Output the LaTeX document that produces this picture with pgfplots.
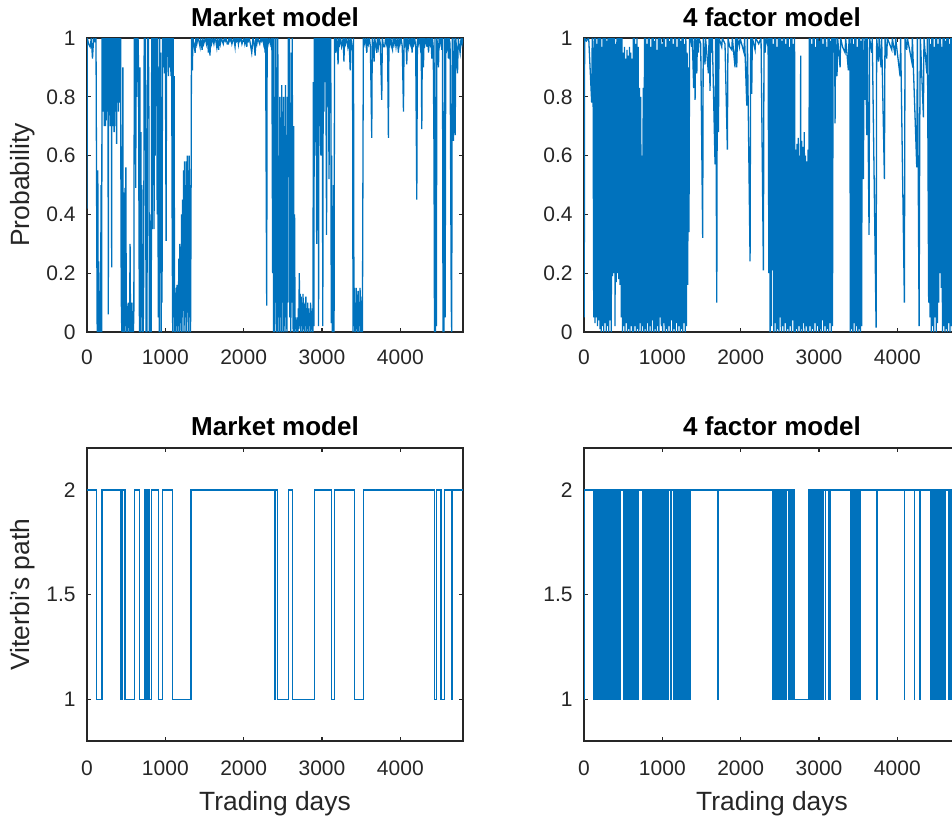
\documentclass[border=0pt]{standalone}
\usepackage{fontspec}
\setmainfont{Liberation Sans}
\usepackage{pgfplots}
\pgfplotsset{compat=1.18}
\definecolor{mblue}{HTML}{0072BD}
\definecolor{axgray}{HTML}{262626}
\pgfplotsset{
  mstyle/.style={
    scale only axis, width=188pt,
    xmin=0, xmax=4800,
    xtick={0,1000,2000,3000,4000},
    scaled ticks=false,
    /pgf/number format/1000 sep={},
    /pgf/number format/assume math mode=true,
    tick align=inside,
    major tick length=1.9pt,
    axis line style={axgray, line width=0.6pt},
    tick style={axgray, line width=0.6pt},
    ticklabel style={font=\fontsize{10.5}{12}\selectfont, text=axgray},
    yticklabel style={anchor=east, inner sep=0pt, xshift=-5.5pt},
    every axis title shift=0pt,
    title style={font=\fontsize{13}{15}\selectfont\bfseries, anchor=base, at={(0.5,1)}},
    every axis y label/.style={at={(axis description cs:-0.1715,0.5)}, rotate=90, anchor=center, font=\fontsize{13.2}{15}\selectfont, text=axgray},
    every axis x label/.style={at={(axis description cs:0.5,0)}, anchor=base, yshift=-34.8pt, font=\fontsize{13.2}{15}\selectfont, text=axgray},
  },
  topstyle/.style={mstyle, height=147pt, ymin=0, ymax=1, ytick={0,0.2,0.4,0.6,0.8,1},
    xticklabel style={anchor=north, inner sep=0pt, yshift=-8.5pt},
    title style={yshift=6pt}},
  botstyle/.style={mstyle, height=146.5pt, ymin=0.8, ymax=2.2, ytick={1,1.5,2},
    xticklabel style={anchor=north, inner sep=0pt, yshift=-9.8pt},
    title style={yshift=6.5pt}},
}
\begin{document}
\begin{tikzpicture}
% ---------------- Top left ----------------
\begin{axis}[topstyle, at={(43.5pt,-166pt)}, anchor=south west,
  title={Market model}, ylabel={Probability}]
\addplot[mblue, line width=0.65pt] coordinates {
(0,0.42)(4,1)(20,0.98)(40,0.97)(55,1)(70,0.93)(85,1)(100,0.99)(115,1)(125,0.3)(130,0)(138,0.55)(144,0)(150,0.24)(158,0)(165,0.05)(172,0)(180,0.5)(187,0)
(192,1)(196,0.85)(200,1)(204,0.75)(208,1)(212,0.8)(216,0.95)(220,0.7)(224,1)(228,0.8)(232,1)(236,0.7)(240,0.95)(244,0.72)(248,1)(252,0.8)(256,1)(260,0.75)(264,1)(268,0.85)(272,0.06)(276,1)(280,0.75)(284,1)(288,0.8)(292,1)(296,0.7)(300,0.95)(304,0.72)(308,1)(312,0.8)(315,0.22)(318,1)(322,0.75)(326,0.95)(330,0.7)(334,1)(338,0.72)(342,1)(346,0.68)(350,1)(354,0.8)(358,1)(362,0.75)(366,0.95)(370,0.7)(374,1)(378,0.64)(382,1)(386,0.8)(390,0.95)(394,0.78)(398,1)(402,0.75)(406,1)(410,0.82)(414,1)(418,0.78)(422,1)(426,0.8)(430,1)
(434,0.3)(440,0.05)(446,0)(452,0.5)(458,0.9)(464,0)(470,0.3)(478,0)(484,0.49)(490,0.02)(496,0.56)(502,0)(508,0.1)(514,0)(520,0.08)(526,0.02)(532,0.1)(538,0)(544,0.05)(550,0.3)(556,0)(562,0.08)(568,0)(574,0.1)(580,0)(586,0.04)(592,0)(598,0.06)(604,1)(610,0.78)(616,1)(622,0.49)(628,1)(634,0.8)(640,1)(646,0.85)(652,1)(658,0.9)(664,0.3)(670,0)(676,0.9)(682,0)(688,0.68)(694,0.05)(700,0.5)(706,0)(712,0.3)(718,0)(724,0.2)(730,1)(736,0.88)(742,1)(748,0.7)(754,0)(760,0.2)(766,0)(772,1)(778,0.88)(784,1)(790,0.75)(796,0)(802,0.4)(808,0)(814,0.2)(820,0)(826,1)(832,0.35)(838,1)(844,0.5)(850,1)(856,0.35)(862,1)(870,0.6)(876,1)(884,0.85)(890,1)(896,0.4)(902,1)(910,0.05)(916,0.9)(922,0)(928,1)(934,0.2)(940,0.95)(946,0)(952,0.8)(958,0.1)(964,1)(972,0.9)(980,1)(990,0.88)(1000,1)(1010,0.31)(1016,1)(1024,0.95)(1032,1)(1040,0.87)(1048,1)(1056,0.9)(1064,1)(1072,0.87)(1080,1)(1088,0.3)(1094,0)(1100,1)(1106,0.05)(1112,0.87)(1118,0)(1124,0.15)(1130,0)(1136,0.12)(1142,0.02)(1148,0.16)(1154,0)(1160,0.14)(1166,0.02)(1172,0.25)(1178,0)(1184,0.3)(1190,0.03)(1196,0.29)(1202,0)(1208,0.4)(1214,0.05)(1220,0.45)(1226,0)(1232,0.55)(1238,0.1)(1244,0.58)(1250,0)(1256,0.5)(1262,0.05)(1268,0.58)(1274,0)(1280,0.6)(1286,0.1)(1292,0.55)(1298,0)(1304,0.6)(1310,0.05)(1316,0.5)(1322,0)(1328,0.4)
(1334,1)(1345,0.89)(1352,1)(1365,0.98)(1380,0.95)(1390,1)(1402,0.98)(1415,1)(1428,0.99)(1443,0.97)(1450,1)(1470,0.96)(1478,1)(1490,0.98)(1500,0.99)(1512,1)(1525,0.98)(1537,1)(1550,0.95)(1558,1)(1570,0.94)(1578,1)(1590,0.98)(1605,1)(1620,0.98)(1632,1)(1645,0.99)(1656,0.97)(1664,1)(1680,0.96)(1690,1)(1702,0.98)(1715,1)(1727,0.99)(1740,0.98)(1752,1)(1765,0.99)(1778,1)(1790,0.98)(1805,0.98)(1812,1)(1825,0.99)(1838,1)(1850,0.98)(1860,0.99)(1875,1)(1890,0.97)(1898,1)(1910,0.99)(1922,1)(1933,0.98)(1940,1)(1952,0.99)(1965,1)(1978,0.98)(1990,0.99)(2003,1)(2015,0.98)(2028,1)(2040,0.97)(2048,1)(2060,0.99)(2072,1)(2085,0.98)(2103,0.95)(2110,0.97)(2118,1)(2130,0.99)(2147,0.94)(2155,1)(2168,0.98)(2180,1)(2192,0.99)(2205,0.98)(2218,1)(2230,0.99)(2242,1)(2255,0.98)(2265,1)(2273,0.95)(2280,1)(2294,0.09)(2300,1)(2312,0.98)(2325,1)(2340,0.98)(2352,1)(2360,0.99)
(2370,0.2)(2376,1)(2382,0)(2388,0.8)(2394,0)(2400,1)(2406,0.1)(2412,1)(2418,0)(2424,0.9)(2430,0)(2436,1)(2442,0.05)(2450,0.6)(2456,0)(2462,0.8)(2468,0.05)(2474,0.73)(2480,0)(2486,0.84)(2492,0.1)(2498,0.75)(2504,0)(2510,0.8)(2516,0.02)(2522,0.7)(2528,0)(2534,0.84)(2540,0.05)(2546,0.5)(2552,0)(2558,0.8)(2564,0.1)(2570,1)(2578,0.6)(2584,1)(2590,0.05)(2596,0.78)(2602,0)(2608,0.95)(2614,0.1)(2620,1)(2626,0.2)(2632,0)(2638,0.7)(2644,0)(2650,0.4)(2656,0.02)(2662,0.05)(2668,0)(2674,0.04)(2680,0)(2686,0.05)(2692,0)(2698,0.08)(2704,0.01)(2710,0.2)(2716,0.02)(2722,0.13)(2728,0)(2734,0.12)(2740,0.02)(2746,0.1)(2752,0)(2758,0.13)(2764,0.01)(2770,0.08)(2776,0)(2782,0.1)(2788,0.02)(2794,0.12)(2800,0)(2806,0.07)(2812,0.01)(2818,0.1)(2824,0)(2830,0.08)(2836,0.02)(2842,0.06)(2848,0)(2854,0.1)(2860,0.01)(2866,0.05)(2872,0)(2878,0.08)(2884,0)(2890,0.85)(2896,0.02)(2902,1)(2908,0.6)(2914,1)(2920,0.75)(2926,1)(2932,0.3)(2938,1)(2944,0.8)(2950,1)(2956,0.02)(2962,1)(2968,0.7)(2974,1)(2980,0.85)(2986,0.6)(2992,1)(2998,0.8)(3004,1)(3010,0.02)(3016,1)(3024,0.75)(3030,1)(3040,0.85)(3048,1)(3058,0.33)(3064,1)(3072,0.78)(3080,1)(3090,0.52)(3096,1)(3104,0.8)(3112,1)(3118,0.03)(3124,0.6)(3130,0)(3136,0.2)(3142,0)(3148,0.5)(3154,0)(3160,1)(3176,0.95)(3184,1)(3195,0.98)(3205,0.91)(3212,1)(3225,0.98)(3238,1)(3250,0.97)(3260,0.98)(3270,1)(3280,0.92)(3288,1)(3300,0.98)(3315,1)(3330,0.97)(3345,1)(3360,0.89)(3368,1)(3380,0.98)(3390,0.95)
(3396,0)(3402,1)(3408,0.02)(3414,0.15)(3420,0)(3426,0.1)(3432,0)(3438,0.15)(3444,0.01)(3450,0.12)(3456,0)(3462,0.14)(3468,0)(3474,0.1)(3480,0.02)(3486,0.15)(3492,0)(3498,0.08)(3504,0)(3510,0.12)(3516,0)(3522,0.5)
(3528,1)(3540,0.98)(3555,1)(3572,0.95)(3580,1)(3592,0.98)(3605,1)(3618,0.97)(3635,0.66)(3642,1)(3652,0.98)(3665,0.92)(3672,1)(3685,0.98)(3700,0.95)(3708,1)(3720,0.97)(3732,1)(3745,0.98)(3763,0.79)(3770,1)(3785,0.97)(3800,0.97)(3812,1)(3825,0.98)(3836,1)(3848,0.66)(3855,1)(3868,0.98)(3880,1)(3890,0.97)(3900,0.96)(3908,1)(3920,0.98)(3932,1)(3945,0.97)(3960,1)(3976,0.95)(3984,1)(3996,0.98)(4010,1)(4025,0.97)(4040,0.75)(4048,1)(4060,0.98)(4072,1)(4082,0.91)(4090,1)(4102,0.97)(4115,1)(4128,0.98)(4140,1)(4150,0.95)(4158,1)(4170,0.98)(4183,1)(4196,0.97)(4210,0.45)(4218,1)(4230,0.98)(4243,1)(4255,0.97)(4266,1)(4274,0.69)(4281,1)(4295,0.9)(4303,1)(4315,0.98)(4328,1)(4340,0.97)(4350,1)(4360,0.95)(4368,1)(4380,0.98)(4392,1)(4402,0.93)(4410,1)(4420,0.97)
(4430,0.6)(4436,0)(4442,1)(4448,0)(4454,0.8)(4460,0.02)(4466,1)(4477,0.97)(4487,0.9)(4495,1)(4505,0.98)(4518,1)(4530,0.96)(4538,1)(4545,0)(4552,0.7)(4558,0)(4564,1)(4572,0.05)(4580,1)(4592,0.97)(4603,1)(4614,0.93)(4622,1)(4635,0.98)(4650,0.1)(4656,0)(4662,1)(4678,0.65)(4686,1)(4700,0.67)(4708,1)(4718,0.96)(4730,0.88)(4740,1)(4752,0.97)(4763,0.95)(4775,1)(4788,0.98)(4800,1)
};
\end{axis}
% ---------------- Top right ----------------
\begin{axis}[topstyle, at={(292pt,-166pt)}, anchor=south west,
  title={4 factor model}]
\addplot[mblue, line width=0.65pt] coordinates {
(0,0.35)(3,0.05)(8,1)(30,0.99)(60,1)(98,0.78)(105,1)(115,0.93)
(124,0.05)(132,1)(140,0.03)(148,1)(156,0.05)(164,0.98)(172,0.02)(180,1)(188,0.04)(196,1)(204,0.01)(212,1)(220,0)(228,0.97)(236,0.02)(244,1)(252,0)(260,1)(268,0.03)(276,1)(284,0)(292,0.99)(300,0.02)(308,1)(316,0)(324,1)(332,0.04)(340,1)(348,0)(356,1)(364,0.19)(372,1)(380,0.2)(388,1)(396,0.02)(404,0.98)(412,0.17)(420,1)(428,0.2)(436,1)(444,0.18)(452,1)(460,0.16)(468,1)(476,0.05)(484,1)(492,0)(500,0.95)(508,0.02)(516,0.97)(524,0)(532,0.93)(540,0.03)(548,0.96)(556,0)(564,0.94)(572,0.01)(580,0.97)(588,0)(596,0.95)(604,0.02)(612,0.93)(620,0)(628,1)(636,0)(644,1)(652,0.02)(660,0.98)(668,0)(676,1)(684,0.01)(692,0.97)(700,0)(708,0.83)(716,0.03)(724,0.8)(732,0)(740,0.6)(748,0.02)(756,0.83)(764,0)(772,1)(780,0.01)(788,1)(796,0)(804,0.98)(812,0.03)(820,1)(828,0)(836,1)(844,0.02)(852,0.97)(860,0)(868,1)(876,0.04)(884,1)(892,0)(900,0.99)(908,0.01)(916,1)(924,0)(932,0.96)(940,0.02)(948,1)(956,0)(964,1)(972,0.05)(980,1)(988,0.02)(996,0.98)(1004,0)(1012,1)(1020,0.03)(1028,1)(1036,0)(1044,0.97)(1052,0.01)(1060,1)(1068,0)(1076,1)(1084,0.02)(1092,0.99)(1100,0)(1108,1)(1116,0.04)(1124,1)(1132,0)(1140,0.98)(1148,0.01)(1156,1)(1164,0)(1172,1)(1180,0.03)(1188,0.97)(1196,0)(1204,1)(1212,0.02)(1220,1)(1228,0)(1236,0.99)(1244,0.01)(1252,1)(1260,0)(1268,1)(1276,0.03)(1284,0.98)(1292,0)(1300,1)(1308,0.02)(1316,0.95)(1324,0.16)(1332,0.9)(1340,0.34)(1348,1)
(1360,1)(1375,0.97)(1382,1)(1400,0.83)(1408,1)(1418,0.79)(1426,1)(1440,0.88)(1448,1)(1460,0.95)(1468,1)(1490,0.98)(1515,0.32)(1522,1)(1545,0.91)(1552,1)(1588,0.88)(1596,1)(1609,0.82)(1616,1)(1630,0.95)(1638,1)(1673,0.57)(1680,1)(1695,0.1)(1702,1)(1716,0.68)(1724,1)(1758,0.97)(1766,1)(1800,0.98)(1830,0.62)(1838,1)(1860,0.97)(1886,0.96)(1894,1)(1928,0.9)(1936,1)(1950,0.9)(1958,1)(1984,0.97)(1992,1)(2043,0.95)(2050,1)(2078,0.77)(2086,1)(2120,0.24)(2128,1)(2141,0.81)(2149,1)(2184,0.96)(2192,1)(2230,0.98)(2260,1)(2290,0.21)(2298,1)(2312,0.95)(2320,1)(2340,0.98)(2350,1)(2360,0.2)(2368,1)
(2376,0)(2384,1)(2392,0.02)(2400,1)(2408,0.21)(2416,0.98)(2424,0)(2432,1)(2440,0.03)(2448,1)(2456,0)(2464,0.97)(2472,0.01)(2480,1)(2488,0)(2496,1)(2504,0.05)(2512,1)(2520,0)(2528,0.99)(2536,0.02)(2544,1)(2552,0)(2560,1)(2568,0.03)(2576,0.98)(2584,0)(2592,1)(2600,0.01)(2608,1)(2616,0)(2624,0.97)(2632,0.02)(2640,1)(2648,0)(2656,1)(2664,0.04)(2672,0.98)(2680,0)(2688,1)
(2696,0)(2704,0.62)(2712,0.01)(2720,0.64)(2728,0)(2736,0.66)(2744,0.02)(2752,0.6)(2760,0)(2766,0.94)(2772,0.01)(2780,0.65)(2788,0)(2796,0.63)(2804,0.03)(2812,0.68)(2820,0)(2828,0.6)(2836,0.02)(2844,0.58)(2852,0)(2860,0.62)(2868,0)
(2876,1)(2884,0.02)(2892,1)(2900,0)(2908,0.98)(2916,0.01)(2924,1)(2932,0)(2940,1)(2948,0.03)(2956,0.97)(2964,0)(2972,1)(2980,0.02)(2988,1)(2996,0)(3004,0.99)(3012,0.01)(3020,1)(3028,0)(3036,1)(3044,0.04)(3052,0.98)(3060,0)(3068,1)(3076,0.02)(3084,1)(3092,0)(3100,0.97)(3108,0.01)(3116,1)(3124,0)(3132,1)(3140,0.03)(3148,0.99)(3156,0)(3164,1)(3172,0.02)(3180,1)
(3192,0.95)(3200,1)(3205,0.71)(3212,1)(3230,0.87)(3238,1)(3269,0.9)(3276,1)(3300,0.97)(3333,0.95)(3340,1)(3375,0.89)(3383,1)(3395,0.95)
(3400,0)(3408,1)(3416,0.01)(3424,1)(3432,0)(3440,0.98)(3448,0.03)(3456,1)(3464,0)(3472,1)(3480,0.02)(3488,0.97)(3496,0)(3504,1)(3512,0.01)(3520,1)(3528,0)(3536,0.99)(3544,0.02)(3552,1)
(3567,0.52)(3575,1)(3588,0.79)(3596,1)(3609,0.67)(3616,1)(3639,0.33)(3646,1)(3673,0.95)(3680,1)(3729,0.015)(3736,1)(3760,0.92)(3768,1)(3792,0.9)(3800,1)(3835,0.52)(3842,1)(3865,0.93)(3872,1)(3929,0.96)(3936,1)(3971,0.94)(3978,1)(4035,0.87)(4042,1)(4090,0.1)(4098,1)(4120,0.96)(4128,1)(4184,0.92)(4192,1)(4248,0.56)(4256,1)(4278,0.02)(4286,0.69)(4294,1)(4333,0.73)(4340,1)(4376,0.88)(4384,1)
(4400,0.1)(4408,1)(4416,0.05)(4424,0.98)(4432,0)(4440,1)(4448,0.02)(4456,1)(4464,0)(4472,0.97)(4480,0.05)(4488,1)(4496,0)(4504,1)(4512,0.03)(4520,0.98)(4528,0.1)(4536,1)(4544,0.2)(4552,1)(4560,0.15)(4568,0.97)(4576,0)(4584,1)(4592,0.02)(4600,1)(4608,0)(4616,0.99)(4624,0.01)(4632,1)(4640,0)(4648,1)(4656,0.03)(4664,0.98)(4672,0)(4680,1)(4688,0.02)(4696,1)(4704,0)(4712,1)(4720,0.05)(4730,1)(4745,0.3)(4760,1)(4780,0.9)(4800,1)
};
\end{axis}
% ---------------- Bottom left ----------------
\begin{axis}[botstyle, at={(43.5pt,-370.5pt)}, anchor=south west,
  title={Market model}, ylabel={Viterbi's path}, xlabel={Trading days}]
\addplot[mblue, line width=0.65pt, const plot] coordinates {
(0,2)(124,1)(190,2)(434,1)(456,2)(485,1)(604,2)(668,1)(732,2)(753,1)(770,2)(792,1)(826,2)(911,1)(962,2)(1090,1)(1328,2)(2392,1)(2409,2)(2435,1)(2571,2)(2622,1)(2903,2)(3124,1)(3158,2)(3414,1)(3529,2)(4436,1)(4458,2)(4521,1)(4560,2)(4650,1)(4665,2)(4800,2)
};
\end{axis}
% ---------------- Bottom right ----------------
\begin{axis}[botstyle, at={(292pt,-370.5pt)}, anchor=south west,
  title={4 factor model}, xlabel={Trading days}]
\addplot[mblue, line width=0.65pt, const plot] coordinates {
(0,1)(3,2)
(128,1)(138,2)(148,1)(158,2)(168,1)(178,2)(188,1)(198,2)(208,1)(218,2)(228,1)(238,2)(248,1)(258,2)(268,1)(278,2)(288,1)(298,2)(308,1)(318,2)(328,1)(338,2)(348,1)(358,2)
(372,1)(390,2)(404,1)(414,2)(426,1)(436,2)(446,1)(456,2)(466,1)(470,2)
(502,1)(512,2)(522,1)(532,2)(545,1)(560,2)(575,1)(590,2)(605,1)(618,2)(628,1)(638,2)(648,1)(658,2)(668,1)(678,2)
(690,1)(700,2)(750,1)(760,2)(770,1)(780,2)(792,1)(804,2)(815,1)(828,2)
(840,1)(850,2)(860,1)(870,2)(882,1)(894,2)(906,1)(920,2)(935,1)(945,2)(955,1)(965,2)(975,1)(985,2)(995,1)(1005,2)(1015,1)(1028,2)(1040,1)(1052,2)(1064,1)(1076,2)
(1110,1)(1116,2)
(1140,1)(1150,2)(1160,1)(1170,2)(1180,1)(1190,2)(1200,1)(1210,2)(1220,1)(1230,2)(1240,1)(1250,2)(1260,1)(1270,2)(1280,1)(1290,2)(1300,1)(1310,2)(1320,1)(1332,2)(1345,1)(1358,2)
(1707,1)(1712,2)
(2410,1)(2414,2)(2440,1)(2444,2)(2461,1)(2467,2)(2475,1)(2482,2)(2490,1)(2497,2)(2505,1)(2512,2)(2520,1)(2528,2)(2535,1)(2542,2)(2550,1)(2558,2)(2565,1)(2573,2)(2580,1)(2588,2)(2612,1)(2618,2)(2630,1)(2638,2)(2650,1)(2658,2)(2670,1)(2678,2)(2690,1)
(2865,2)(2875,1)(2885,2)(2895,1)(2905,2)(2915,1)(2925,2)(2935,1)(2945,2)(2955,1)(2965,2)(2975,1)(2985,2)(2995,1)(3005,2)(3020,1)(3030,2)(3045,1)(3052,2)(3080,1)(3086,2)(3120,1)(3126,2)(3140,1)(3146,2)
(3400,1)(3410,2)(3420,1)(3430,2)(3440,1)(3450,2)(3460,1)(3470,2)(3480,1)(3490,2)(3500,1)(3510,2)(3520,1)(3528,2)
(3738,1)(3743,2)(4087,1)(4092,2)(4215,1)(4220,2)(4291,1)(4296,2)
(4419,1)(4429,2)(4439,1)(4449,2)(4459,1)(4469,2)(4479,1)(4489,2)(4499,1)(4509,2)(4519,1)(4529,2)(4539,1)(4549,2)(4559,1)(4569,2)(4579,1)(4589,2)(4599,1)(4609,2)
(4653,1)(4658,2)(4683,1)(4690,2)(4710,1)(4720,2)(4740,1)(4760,2)(4800,2)
};
\end{axis}
\pgfresetboundingbox
\path[use as bounding box] (0pt,0pt) rectangle (476pt,-410pt);
\end{tikzpicture}
\end{document}
